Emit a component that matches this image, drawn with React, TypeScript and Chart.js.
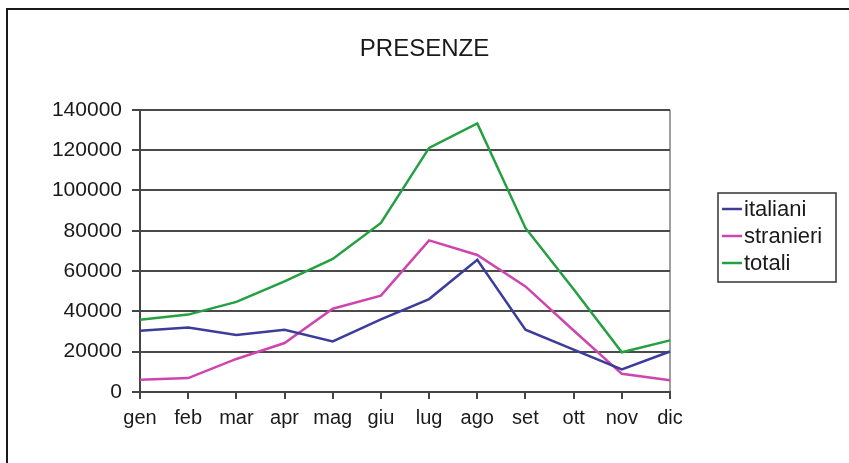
import React, { useEffect, useRef } from "react";
import { Chart, registerables } from "chart.js";

Chart.register(...registerables);

const months = ["gen", "feb", "mar", "apr", "mag", "giu", "lug", "ago", "set", "ott", "nov", "dic"];
const italiani = [30400, 32000, 28300, 30900, 25100, 36000, 46100, 65600, 30900, 21000, 11200, 20100];
const stranieri = [6100, 6900, 16400, 24300, 41300, 47800, 75200, 68000, 52400, 30500, 9000, 5800];
const totali = [35900, 38400, 44700, 54900, 66000, 83900, 121100, 133200, 81400, 51000, 19700, 25600];
const yTicks = [0, 20000, 40000, 60000, 80000, 100000, 120000, 140000];
const seriesNames = ["italiani", "stranieri", "totali"];
const seriesColors = ["#3c3c9c", "#cf45b0", "#24a043"];
const titleText = "PRESENZE";

const FONT = "'Liberation Sans', Arial, sans-serif";
const TEXT = "#1a1a1a";

const legendBoxPlugin = {
  id: "legendBox",
  afterDraw(chart: any) {
    const ctx = chart.ctx as CanvasRenderingContext2D;
    const x0 = 718, y0 = 193, w = 118, h = 89;
    ctx.save();
    ctx.strokeStyle = "#333";
    ctx.lineWidth = 1.5;
    ctx.strokeRect(x0, y0, w, h);
    ctx.font = `22px ${FONT}`;
    ctx.textBaseline = "middle";
    ctx.textAlign = "left";
    chart.data.datasets.forEach((ds: any, i: number) => {
      const cy = y0 + 16 + i * 27;
      ctx.strokeStyle = ds.borderColor;
      ctx.lineWidth = 2.5;
      ctx.beginPath();
      ctx.moveTo(x0 + 4, cy);
      ctx.lineTo(x0 + 24, cy);
      ctx.stroke();
      ctx.fillStyle = TEXT;
      ctx.fillText(ds.label, x0 + 26, cy + 1);
    });
    ctx.restore();
  },
};

export default function App() {
  const ref = useRef<HTMLCanvasElement | null>(null);

  useEffect(() => {
    if (!ref.current) return;
    const data = [italiani, stranieri, totali];
    const chart = new Chart(ref.current, {
      type: "line",
      data: {
        labels: months,
        datasets: seriesNames.map((name, i) => ({
          label: name,
          data: data[i],
          borderColor: seriesColors[i],
          backgroundColor: seriesColors[i],
          borderWidth: 2.5,
          pointRadius: 0,
          tension: 0,
          fill: false,
        })),
      },
      options: {
        animation: false,
        responsive: false,
        maintainAspectRatio: false,
        layout: { padding: 0 },
        plugins: {
          legend: { display: false },
          tooltip: { enabled: false },
          title: {
            display: true,
            text: titleText,
            color: TEXT,
            font: { family: FONT, size: 24, weight: "normal" },
            padding: { top: 35, bottom: 46 },
          },
        },
        scales: {
          x: {
            type: "category",
            offset: false,
            border: { display: true, color: "#444", width: 2 },
            grid: {
              drawOnChartArea: true,
              color: (c: any) => (c.index === months.length - 1 ? "#a0a0a0" : "rgba(0,0,0,0)"),
              lineWidth: 2,
              drawTicks: true,
              tickLength: 7,
              tickColor: "#444",
              tickWidth: 2,
            },
            ticks: {
              color: TEXT,
              font: { family: FONT, size: 20 },
              padding: 7,
              maxRotation: 0,
              autoSkip: false,
            },
            afterFit: (s: any) => {
              s.height = 71;
            },
          },
          y: {
            min: 0,
            max: 140000,
            border: { display: true, color: "#444", width: 2 },
            grid: {
              color: "#4a4a4a",
              lineWidth: 2,
              drawTicks: true,
              tickLength: 8,
              tickColor: "#444",
              tickWidth: 2,
            },
            afterBuildTicks: (s: any) => {
              s.ticks = yTicks.map((v) => ({ value: v }));
            },
            ticks: {
              color: TEXT,
              font: { family: FONT, size: 21 },
              padding: 10,
              callback: (v: any) => String(v),
            },
            afterFit: (s: any) => {
              s.width = 140;
            },
          },
          yRight: {
            position: "right",
            display: true,
            min: 0,
            max: 140000,
            border: { display: false },
            grid: { drawOnChartArea: false, drawTicks: false },
            ticks: { display: false },
            afterFit: (s: any) => {
              s.width = 179;
            },
          },
        },
      },
      plugins: [legendBoxPlugin],
    });
    return () => chart.destroy();
  }, []);

  return (
    <div style={{ position: "fixed", left: 0, top: 0, width: 849, height: 463, background: "#fff" }}>
      <div
        style={{
          position: "absolute",
          left: 6,
          top: 8,
          right: 0,
          bottom: 0,
          borderTop: "2px solid #1a1a1a",
          borderLeft: "2px solid #1a1a1a",
        }}
      />
      <canvas ref={ref} width={849} height={463} style={{ position: "absolute", left: 0, top: 0 }} />
    </div>
  );
}
